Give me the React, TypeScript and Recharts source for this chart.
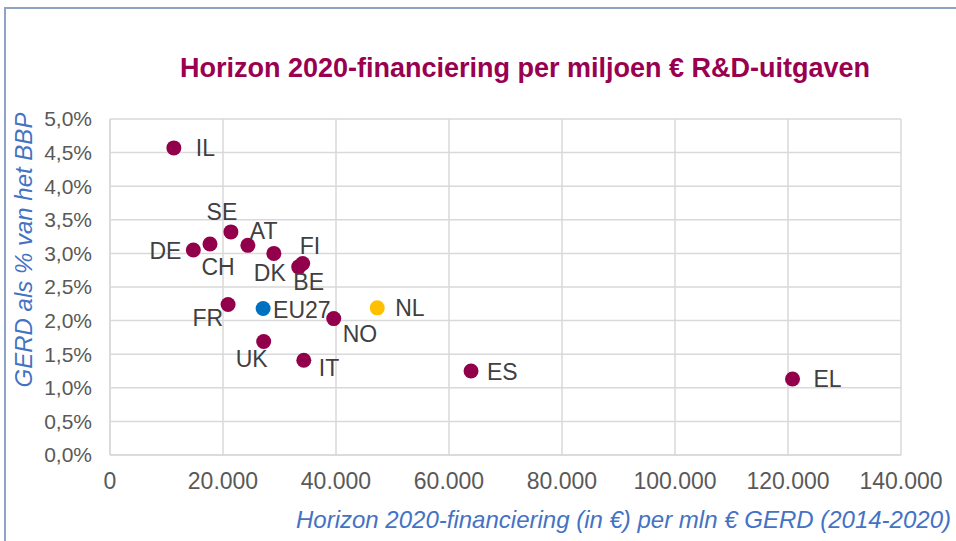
import { ScatterChart, Scatter, XAxis, YAxis, CartesianGrid, Label } from "recharts";

const countries = ["IL", "SE", "CH", "DE", "AT", "DK", "FI", "BE", "FR", "NO", "UK", "IT", "ES", "EL"];
const funding = [11300, 21400, 17700, 14750, 24400, 29000, 34100, 33400, 20900, 39600, 27200, 34300, 63900, 120800];
const gerd = [0.0457, 0.0332, 0.0314, 0.0305, 0.0312, 0.03, 0.0285, 0.028, 0.0224, 0.0203, 0.0169, 0.0141, 0.0125, 0.0113];

const euLabel = ["EU27"];
const euFunding = [27100];
const euGerd = [0.0218];

const nlLabel = ["NL"];
const nlFunding = [47300];
const nlGerd = [0.0219];

const xTicks = [0, 20000, 40000, 60000, 80000, 100000, 120000, 140000];
const yTicks = [0, 0.005, 0.01, 0.015, 0.02, 0.025, 0.03, 0.035, 0.04, 0.045, 0.05];

const toRows = (names: string[], xs: number[], ys: number[]) =>
  names.map((name, i) => ({ name, x: xs[i], y: ys[i] }));

const mainData = toRows(countries, funding, gerd);
const euData = toRows(euLabel, euFunding, euGerd);
const nlData = toRows(nlLabel, nlFunding, nlGerd);

// label placement next to each dot (dx, dy, anchor)
const labelPos: Record<string, [number, number, string]> = {
  IL: [22, 0, "start"],
  SE: [-9, -20, "middle"],
  AT: [2, -14, "start"],
  DE: [-12, 1, "end"],
  CH: [8, 23, "middle"],
  DK: [-4, 20, "middle"],
  FI: [-3, -17, "start"],
  BE: [10, 15, "middle"],
  FR: [-5, 14, "end"],
  EU27: [10, 1, "start"],
  NO: [9, 15, "start"],
  NL: [18, 0, "start"],
  UK: [-12, 18, "middle"],
  IT: [15, 8, "start"],
  ES: [16, 1, "start"],
  EL: [21, 0, "start"],
};

const FONT = "'Liberation Sans', Arial, sans-serif";
const MAGENTA = "#92004C";

const dot = (color: string) => (props: any) => {
  const { cx, cy, payload } = props;
  const [dx, dy, anchor] = labelPos[payload.name] || [12, 0, "start"];
  return (
    <g>
      <circle cx={cx} cy={cy} r={7.5} fill={color} />
      <text
        x={cx + dx}
        y={cy + dy}
        textAnchor={anchor as any}
        dominantBaseline="central"
        fontSize={23}
        fontFamily={FONT}
        fill="#404040"
      >
        {payload.name}
      </text>
    </g>
  );
};

const fmtX = (v: number) => v.toLocaleString("nl-NL");
const fmtY = (v: number) => (v * 100).toFixed(1).replace(".", ",") + "%";

export default function App() {
  return (
    <div style={{ position: "absolute", left: 0, top: 0, width: 956, height: 541, overflow: "hidden", background: "#fff" }}>
      <div
        style={{
          position: "absolute", left: 4, top: 7, width: 1100, height: 700,
          borderLeft: "2px solid #8FA3C2", borderTop: "2px solid #8FA3C2",
        }}
      />
      <div
        style={{
          position: "absolute", left: 0, top: 53, width: 1050, textAlign: "center",
          fontFamily: FONT, fontWeight: "bold", fontSize: 27, color: "#990050",
        }}
      >
        Horizon 2020-financiering per miljoen € R&amp;D-uitgaven
      </div>
      <ScatterChart
        width={956}
        height={541}
        margin={{ top: 119, right: 55, left: 0, bottom: 0 }}
        style={{ position: "absolute", left: 0, top: 0 }}
      >
        <CartesianGrid stroke="#D9D9D9" strokeWidth={1.5} />
        <XAxis
          type="number"
          dataKey="x"
          domain={[0, 140000]}
          ticks={xTicks}
          tickFormatter={fmtX}
          height={86}
          tickSize={0}
          tickMargin={18}
          axisLine={{ stroke: "#D9D9D9", strokeWidth: 1.5 }}
          tick={{ fill: "#595959", fontSize: 23, fontFamily: FONT }}
          interval={0}
        >
          <Label
            content={({ viewBox }: any) => (
              <text
                x={viewBox.x + viewBox.width / 2 + 118}
                y={viewBox.y + 73}
                textAnchor="middle"
                fontSize={24}
                fontStyle="italic"
                fontFamily={FONT}
                fill="#4472C4"
              >
                Horizon 2020-financiering (in €) per mln € GERD (2014-2020)
              </text>
            )}
          />
        </XAxis>
        <YAxis
          type="number"
          dataKey="y"
          domain={[0, 0.05]}
          ticks={yTicks}
          tickFormatter={fmtY}
          width={110}
          tickSize={0}
          tickMargin={18}
          axisLine={{ stroke: "#D9D9D9", strokeWidth: 1.5 }}
          tick={{ fill: "#595959", fontSize: 21, fontFamily: FONT }}
          interval={0}
        >
          <Label
            content={() => (
              <text
                x={0}
                y={0}
                transform="translate(32, 250) rotate(-90)"
                textAnchor="middle"
                fontSize={24}
                fontStyle="italic"
                fontFamily={FONT}
                fill="#4472C4"
              >
                GERD als % van het BBP
              </text>
            )}
          />
        </YAxis>
        <Scatter data={mainData} shape={dot(MAGENTA)} isAnimationActive={false} />
        <Scatter data={euData} shape={dot("#0070C0")} isAnimationActive={false} />
        <Scatter data={nlData} shape={dot("#FFC000")} isAnimationActive={false} />
      </ScatterChart>
    </div>
  );
}
